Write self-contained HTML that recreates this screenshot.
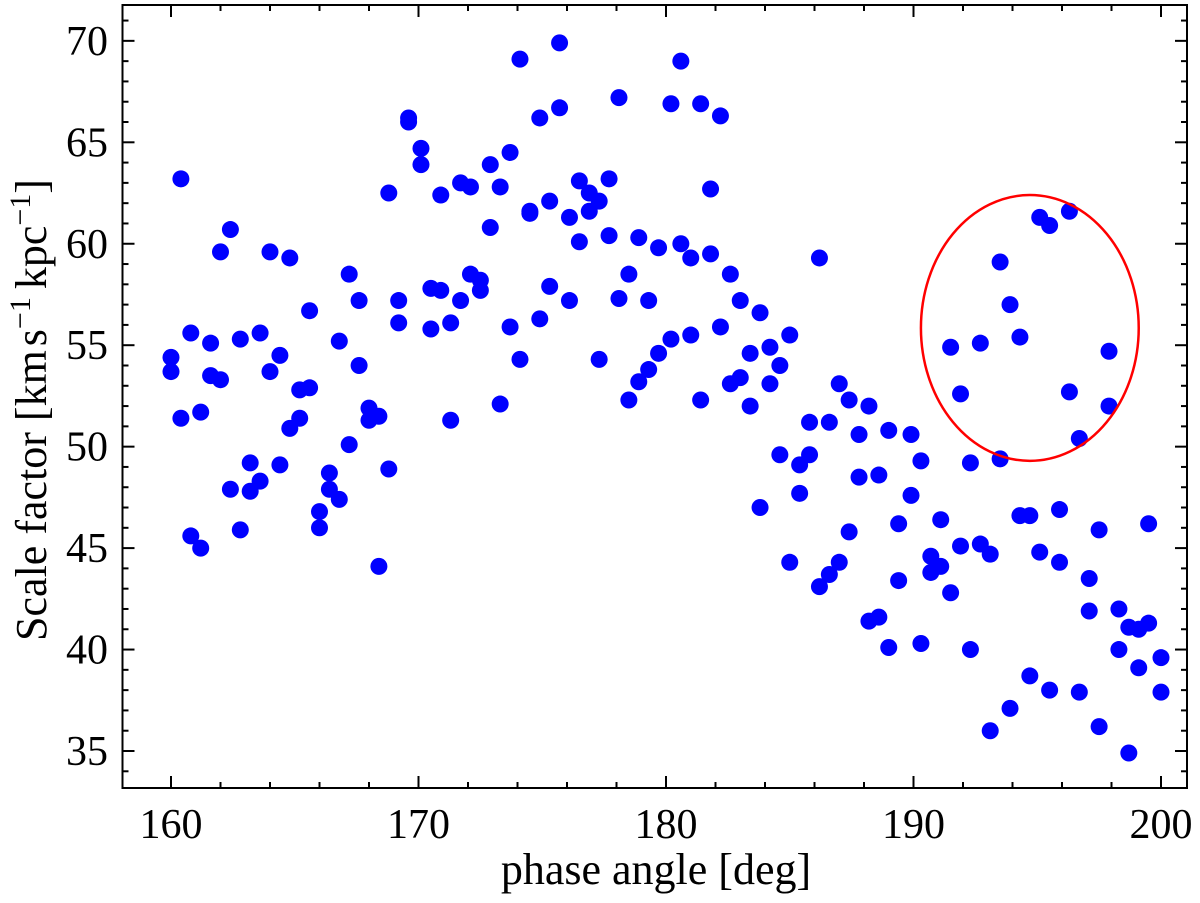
<!DOCTYPE html>
<html><head><meta charset="utf-8"><style>
html,body{margin:0;padding:0;background:#fff;}
svg text{font-family:"Liberation Serif",serif;fill:#000;}
</style></head><body>
<svg id="chart" width="1200" height="898" viewBox="0 0 1200 898" xmlns="http://www.w3.org/2000/svg">
<g id="marks"></g>
<g id="axes"></g>
<text x="656" y="884" font-size="44" text-anchor="middle">phase angle [deg]</text>
<text transform="translate(46,410) rotate(-90)" font-size="44" text-anchor="middle">Scale factor [km<tspan dx="4">s</tspan><tspan dy="-16" font-size="30">−1</tspan><tspan dy="16" dx="8">kpc</tspan><tspan dy="-16" font-size="30">−1</tspan><tspan dy="16">]</tspan></text>
</svg>
<script>
const phase = [160.0,160.0,160.4,160.4,160.8,160.8,161.2,161.2,161.6,161.6,162.0,162.0,162.4,162.4,162.8,162.8,163.2,163.2,163.6,163.6,164.0,164.0,164.4,164.4,164.8,164.8,165.2,165.2,165.6,165.6,166.0,166.0,166.4,166.4,166.8,166.8,167.2,167.2,167.6,167.6,168.0,168.0,168.4,168.4,168.8,168.8,169.2,169.2,169.6,169.6,170.1,170.1,170.5,170.5,170.9,170.9,171.3,171.3,171.7,171.7,172.1,172.1,172.5,172.5,172.9,172.9,173.3,173.3,173.7,173.7,174.1,174.1,174.5,174.5,174.9,174.9,175.3,175.3,175.7,175.7,176.1,176.1,176.5,176.5,176.9,176.9,177.3,177.3,177.7,177.7,178.1,178.1,178.5,178.5,178.9,178.9,179.3,179.3,179.7,179.7,180.2,180.2,180.6,180.6,181.0,181.0,181.4,181.4,181.8,181.8,182.2,182.2,182.6,182.6,183.0,183.0,183.4,183.4,183.8,183.8,184.2,184.2,184.6,184.6,185.0,185.0,185.4,185.4,185.8,185.8,186.2,186.2,186.6,186.6,187.0,187.0,187.4,187.4,187.8,187.8,188.2,188.2,188.6,188.6,189.0,189.0,189.4,189.4,189.9,189.9,190.3,190.3,190.7,190.7,191.1,191.1,191.5,191.5,191.9,191.9,192.3,192.3,192.7,192.7,193.1,193.1,193.5,193.5,193.9,193.9,194.3,194.3,194.7,194.7,195.1,195.1,195.5,195.5,195.9,195.9,196.3,196.3,196.7,196.7,197.1,197.1,197.5,197.5,197.9,197.9,198.3,198.3,198.7,198.7,199.1,199.1,199.5,199.5,200.0,200.0];
const scale = [54.4,53.7,63.2,51.4,55.6,45.6,45.0,51.7,55.1,53.5,59.6,53.3,60.7,47.9,55.3,45.9,49.2,47.8,55.6,48.3,59.6,53.7,54.5,49.1,59.3,50.9,52.8,51.4,56.7,52.9,46.8,46.0,48.7,47.9,55.2,47.4,58.5,50.1,57.2,54.0,51.9,51.3,51.5,44.1,62.5,48.9,57.2,56.1,66.2,66.0,64.7,63.9,57.8,55.8,62.4,57.7,56.1,51.3,63.0,57.2,62.8,58.5,58.2,57.7,63.9,60.8,62.8,52.1,64.5,55.9,69.1,54.3,61.5,61.6,66.2,56.3,62.1,57.9,69.9,66.7,61.3,57.2,63.1,60.1,62.5,61.6,62.1,54.3,63.2,60.4,67.2,57.3,58.5,52.3,60.3,53.2,57.2,53.8,59.8,54.6,66.9,55.3,69.0,60.0,59.3,55.5,66.9,52.3,62.7,59.5,66.3,55.9,58.5,53.1,57.2,53.4,54.6,52.0,56.6,47.0,54.9,53.1,54.0,49.6,55.5,44.3,49.1,47.7,51.2,49.6,59.3,43.1,51.2,43.7,53.1,44.3,52.3,45.8,50.6,48.5,52.0,41.4,48.6,41.6,50.8,40.1,46.2,43.4,50.6,47.6,49.3,40.3,44.6,43.8,46.4,44.1,54.9,42.8,52.6,45.1,49.2,40.0,55.1,45.2,44.7,36.0,59.1,49.4,57.0,37.1,55.4,46.6,46.6,38.7,61.3,44.8,60.9,38.0,46.9,44.3,61.6,52.7,50.4,37.9,43.5,41.9,45.9,36.2,54.7,52.0,42.0,40.0,41.1,34.9,41.0,39.1,46.2,41.3,39.6,37.9];
const xTicks = [160,170,180,190,200];
const yTicks = [35,40,45,50,55,60,65,70];
const ellipseCenter = [194.7,55.85];
const ellipseRadii = [4.4,6.55];

const NS='http://www.w3.org/2000/svg';
const L=122.5,R=1187,T=5,B=788;
const X=v=>171+(v-160)*24.75;
const Y=v=>751-(v-35)*20.29;
function mk(tag,attrs,parent){const e=document.createElementNS(NS,tag);for(const k in attrs)e.setAttribute(k,attrs[k]);parent.appendChild(e);return e;}
const marks=document.getElementById('marks');
for(let i=0;i<phase.length;i++){
  const c=mk('circle',{cx:X(phase[i]),cy:Y(scale[i]),r:8.5,fill:'#0000ff'},marks);
  
  
}
const el=mk('ellipse',{cx:X(ellipseCenter[0]),cy:Y(ellipseCenter[1]),rx:ellipseRadii[0]*24.75,ry:ellipseRadii[1]*20.29,fill:'none',stroke:'#ff0000','stroke-width':2.5},marks);


const ax=document.getElementById('axes');
const fr=mk('rect',{x:L,y:T,width:R-L,height:B-T,fill:'none',stroke:'#000','stroke-width':2},ax);


for(let v=158;v<=202;v+=2){const x=X(v);if(x<L||x>R)continue;const len=v%10===0?12:6;
  mk('line',{x1:x,x2:x,y1:B,y2:B-len,stroke:'#000','stroke-width':2},ax);
  mk('line',{x1:x,x2:x,y1:T,y2:T+len,stroke:'#000','stroke-width':2},ax);}
for(let v=34;v<=72;v+=1){const y=Y(v);if(y<T||y>B)continue;const len=v%5===0?12:6;
  mk('line',{x1:L,x2:L+len,y1:y,y2:y,stroke:'#000','stroke-width':2},ax);
  mk('line',{x1:R,x2:R-len,y1:y,y2:y,stroke:'#000','stroke-width':2},ax);}
xTicks.forEach(v=>{const t=mk('text',{x:X(v),y:838,'font-size':42,'text-anchor':'middle'},ax);t.textContent=v;
  
  });
yTicks.forEach(v=>{const t=mk('text',{x:108,y:Y(v)+14,'font-size':42,'text-anchor':'end'},ax);t.textContent=v;
  
  });
</script>
</body></html>
